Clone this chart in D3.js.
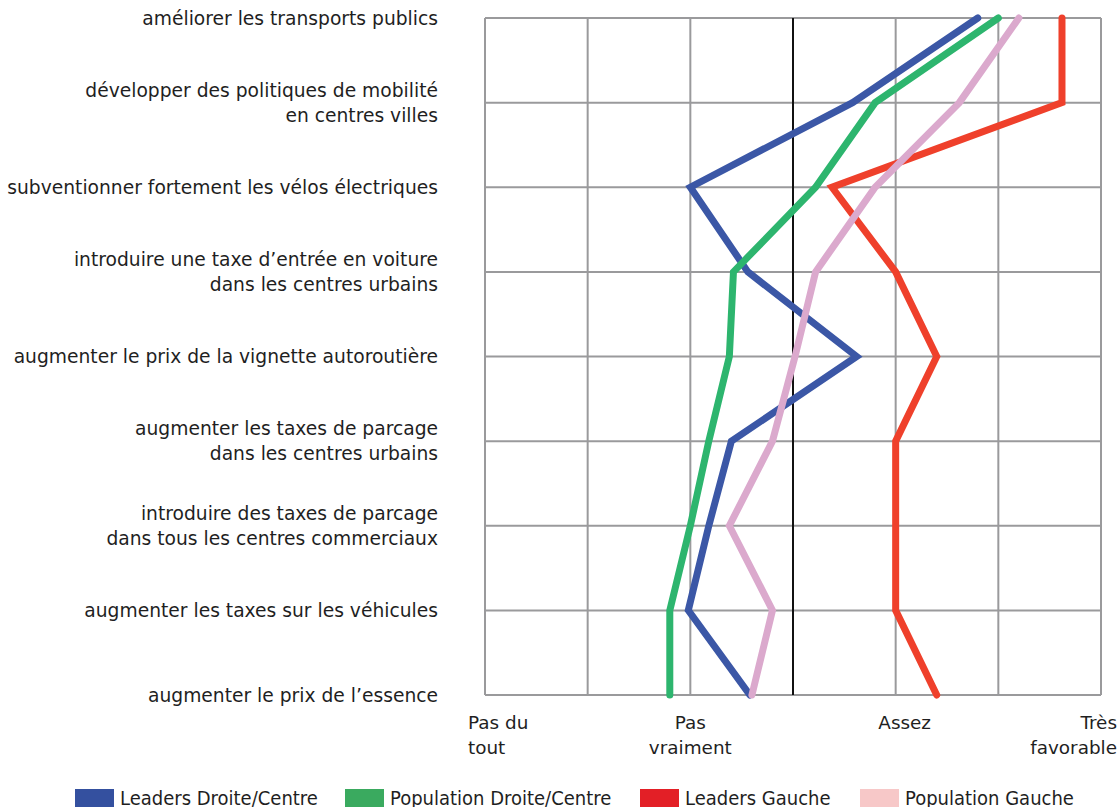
<!DOCTYPE html>
<html><head><meta charset="utf-8">
<script src="https://cdn.jsdelivr.net/npm/d3@7"></script>
<style>
html,body{margin:0;padding:0;background:#fff;}
svg{display:block;}
</style></head>
<body>
<svg id="chart" width="1119" height="807"></svg>
<script>
const categories = [
  "améliorer les transports publics",
  "développer des politiques de mobilité\nen centres villes",
  "subventionner fortement les vélos électriques",
  "introduire une taxe d’entrée en voiture\ndans les centres urbains",
  "augmenter le prix de la vignette autoroutière",
  "augmenter les taxes de parcage\ndans les centres urbains",
  "introduire des taxes de parcage\ndans tous les centres commerciaux",
  "augmenter les taxes sur les véhicules",
  "augmenter le prix de l’essence"
];
const seriesNames = ["Leaders Droite/Centre","Population Droite/Centre","Leaders Gauche","Population Gauche"];
const leadersDroite    = [3.40, 2.79, 2.00, 2.28, 2.81, 2.20, 2.09, 1.99, 2.29];
const populationDroite = [3.50, 2.90, 2.61, 2.21, 2.19, 2.09, 2.00, 1.90, 1.90];
const leadersGauche    = [3.81, 3.81, 2.69, 3.00, 3.20, 3.00, 3.00, 3.00, 3.20];
const populationGauche = [3.60, 3.31, 2.90, 2.61, 2.51, 2.40, 2.19, 2.40, 2.30];
const tickValues = [1, 2, 3, 4];
const tickLabels = ["Pas du\ntout", "Pas\nvraiment", "Assez", "Très\nfavorable"];
const gridValues = [1, 1.5, 2, 2.5, 3, 3.5, 4];

const lineColors = ["#3b57a6", "#2db56e", "#ef402b", "#dba9cd"];
const legendColors = ["#34509f", "#3aaa5f", "#e31f26", "#f7c8c8"];
const allSeries = [leadersDroite, populationDroite, leadersGauche, populationGauche];

const svg = d3.select("#chart");
const x = d3.scaleLinear().domain([1, 4]).range([485, 1101]);
const y = d3.scalePoint().domain(categories).range([18, 695]);
const textColor = "#1f1f1f";
const font = "'DejaVu Sans', sans-serif";

// grid
const g = svg.append("g");
g.selectAll("line.h").data(categories).join("line")
  .attr("x1", x(1)).attr("x2", x(4))
  .attr("y1", d => y(d)).attr("y2", d => y(d))
  .attr("stroke", "#9a9a9c").attr("stroke-width", 2);
g.selectAll("line.v").data(gridValues).join("line")
  .attr("x1", d => x(d)).attr("x2", d => x(d))
  .attr("y1", y(categories[0])).attr("y2", y(categories[categories.length-1]))
  .attr("stroke", d => d === 2.5 ? "#111" : "#9a9a9c").attr("stroke-width", 2);

// category labels
const lab = svg.append("g");
categories.forEach(c => {
  const lines = c.split("\n");
  const t = lab.append("text")
    .attr("text-anchor", "end").attr("font-family", font).attr("font-size", 18.7)
    .attr("fill", textColor);
  const n = lines.length;
  lines.forEach((l, i) => {
    t.append("tspan").attr("x", 438)
      .attr("y", y(c) + 6.5 + (i - (n - 1) / 2) * 25)
      .text(l);
  });
});

// x tick labels
const anchors = ["start", "middle", "middle", "end"];
const offsets = [-17, 0, 9, 16];
tickValues.forEach((v, k) => {
  const lines = tickLabels[k].split("\n");
  const t = svg.append("text").attr("text-anchor", anchors[k])
    .attr("font-family", font).attr("font-size", 18.4).attr("fill", textColor);
  lines.forEach((l, i) => {
    t.append("tspan").attr("x", x(v) + offsets[k]).attr("y", 729 + i * 24.5).text(l);
  });
});

// lines
const line = d3.line().x(d => x(d.v)).y(d => y(d.c));
allSeries.forEach((s, k) => {
  svg.append("path")
    .datum(s.map((v, i) => ({v, c: categories[i]})))
    .attr("d", line)
    .attr("fill", "none")
    .attr("stroke", lineColors[k])
    .attr("stroke-width", 7)
    .attr("stroke-linecap", "round")
    .attr("stroke-linejoin", "miter");
});

// legend
const legX = [75, 345, 640, 860];
const leg = svg.append("g");
seriesNames.forEach((n, k) => {
  leg.append("rect").attr("x", legX[k]).attr("y", 789).attr("width", 39).attr("height", 20)
    .attr("fill", legendColors[k]);
  leg.append("text").attr("x", legX[k] + 45).attr("y", 805)
    .attr("font-family", "'Liberation Sans Narrow', 'DejaVu Sans Condensed', sans-serif")
    .attr("font-size", 20).attr("fill", textColor).text(n);
});
</script>
</body></html>
